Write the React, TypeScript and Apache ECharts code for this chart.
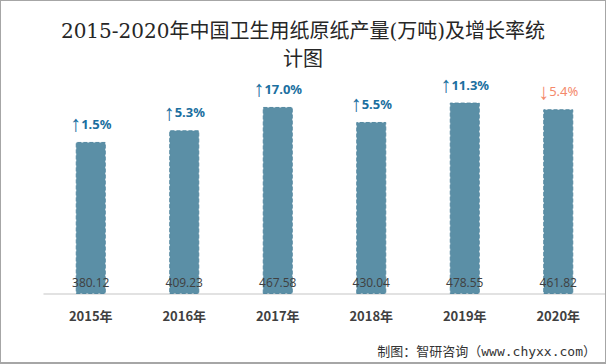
import React, { useEffect, useRef } from "react";
import * as echarts from "echarts";

const categories = ["2015年", "2016年", "2017年", "2018年", "2019年", "2020年"];
const production = [380.12, 409.23, 467.58, 430.04, 478.55, 461.82];
const growth = [1.5, 5.3, 17.0, 5.5, 11.3, -5.4];
const titleText = "2015-2020年中国卫生用纸原纸产量(万吨)及增长率统\n计图";
const sourceText = "制图：智研咨询（www.chyxx.com）";

export default function App() {
  const ref = useRef<HTMLDivElement>(null);
  useEffect(() => {
    document.body.style.margin = "0";
    if (!ref.current) return;
    const chart = echarts.init(ref.current, null, { renderer: "svg" });
    chart.setOption({
      animation: false,
      backgroundColor: "#ffffff",
      title: {
        text: titleText,
        left: "center",
        top: 11,
        textStyle: {
          fontFamily: "'DejaVu Serif', 'Noto Sans CJK SC', serif",
          fontSize: 20,
          fontWeight: "normal",
          color: "#262626",
          lineHeight: 28,
        },
      },
      graphic: [
        {
          type: "text",
          right: 9,
          top: 344,
          style: {
            text: sourceText,
            font: "13px 'DejaVu Sans Mono', 'Noto Sans CJK SC', monospace",
            fill: "#333333",
          },
        },
      ],
      grid: { left: 43, right: 0, top: 53, bottom: 68, containLabel: false },
      xAxis: {
        type: "category",
        data: categories,
        axisLine: { lineStyle: { color: "#d9d9d9", width: 1.5 } },
        axisTick: { show: false },
        axisLabel: {
          margin: 15,
          fontSize: 13,
          fontWeight: "bold",
          color: "#404040",
          fontFamily: "'Noto Sans CJK SC', sans-serif",
        },
      },
      yAxis: {
        type: "value",
        min: 0,
        max: 600,
        show: false,
        splitLine: { show: false },
      },
      series: [
        {
          type: "bar",
          data: production,
          barWidth: 30,
          itemStyle: {
            color: "#5b8fa6",
            borderColor: "#5589a1",
            borderWidth: 1,
            borderType: "dashed",
          },
          label: {
            show: true,
            position: "insideBottom",
            distance: 6,
            color: "#404040",
            fontSize: 12,
            fontFamily: "'Open Sans', 'Noto Sans', sans-serif",
          },
        },
        {
          type: "bar",
          data: production.map((v, i) => ({
            value: v,
            label: {
              color: growth[i] >= 0 ? "#1b6fa0" : "#f4896b",
              fontWeight: growth[i] >= 0 ? "bold" : "normal",
            },
          })),
          barWidth: 30,
          barGap: "-100%",
          itemStyle: { color: "rgba(0,0,0,0)" },
          silent: true,
          label: {
            show: true,
            position: "top",
            distance: 9,
            fontSize: 13,
            fontFamily: "'Noto Sans', 'DejaVu Sans', sans-serif",
            formatter: (p: any) => {
              const g = growth[p.dataIndex];
              return "{a|" + (g >= 0 ? "↑" : "↓") + "}" + Math.abs(g).toFixed(1) + "%";
            },
            rich: {
              a: {
                fontFamily: "'Liberation Sans', 'DejaVu Sans', sans-serif",
                fontSize: 22,
                lineHeight: 18,
                fontWeight: "normal",
              },
            },
          },
        },
      ],
    });
    return () => chart.dispose();
  }, []);
  return (
    <div
      style={{
        width: 606,
        height: 364,
        boxSizing: "border-box",
        border: "1px solid #a6a6a6",
        borderBottomWidth: 2,
        overflow: "hidden",
      }}
    >
      <div ref={ref} style={{ width: 604, height: 361 }} />
    </div>
  );
}
